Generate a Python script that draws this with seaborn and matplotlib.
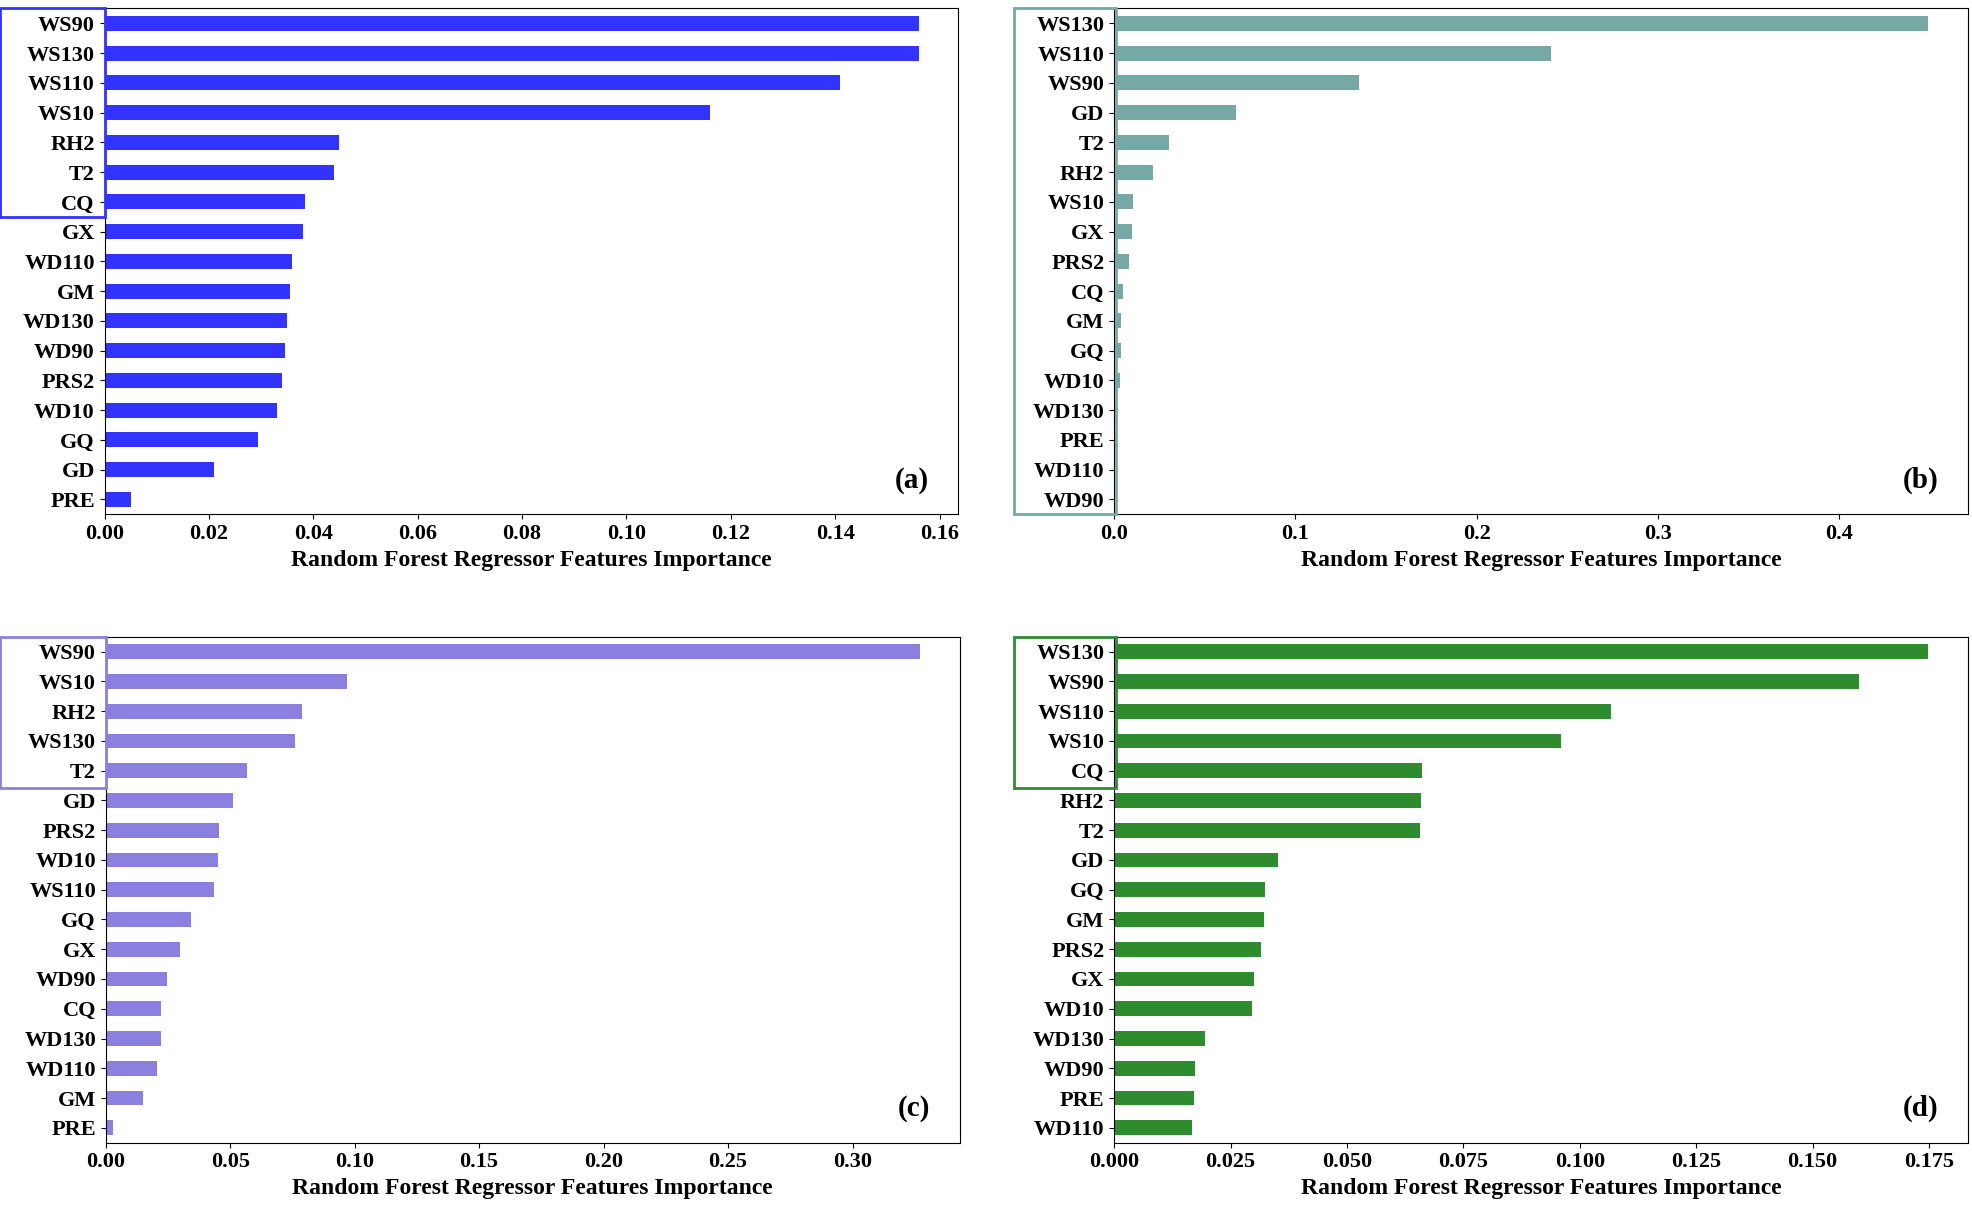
import matplotlib.pyplot as plt
import seaborn as sns
import pandas as pd
from matplotlib.patches import Rectangle

# Importância das variáveis em cada painel
labels_a = ["WS90", "WS130", "WS110", "WS10", "RH2", "T2", "CQ", "GX", "WD110", "GM", "WD130", "WD90", "PRS2", "WD10", "GQ", "GD", "PRE"]
values_a = [0.156, 0.156, 0.141, 0.116, 0.045, 0.044, 0.0385, 0.038, 0.036, 0.0355, 0.035, 0.0345, 0.034, 0.033, 0.0295, 0.021, 0.005]

labels_b = ["WS130", "WS110", "WS90", "GD", "T2", "RH2", "WS10", "GX", "PRS2", "CQ", "GM", "GQ", "WD10", "WD130", "PRE", "WD110", "WD90"]
values_b = [0.449, 0.241, 0.135, 0.067, 0.030, 0.0215, 0.0105, 0.0097, 0.0083, 0.005, 0.004, 0.0035, 0.003, 0.001, 0.0008, 0.0006, 0.0005]

labels_c = ["WS90", "WS10", "RH2", "WS130", "T2", "GD", "PRS2", "WD10", "WS110", "GQ", "GX", "WD90", "CQ", "WD130", "WD110", "GM", "PRE"]
values_c = [0.327, 0.097, 0.079, 0.076, 0.0566, 0.051, 0.0455, 0.045, 0.0434, 0.0343, 0.030, 0.0247, 0.0222, 0.0222, 0.0207, 0.015, 0.003]

labels_d = ["WS130", "WS90", "WS110", "WS10", "CQ", "RH2", "T2", "GD", "GQ", "GM", "PRS2", "GX", "WD10", "WD130", "WD90", "PRE", "WD110"]
values_d = [0.1747, 0.160, 0.1067, 0.0959, 0.0662, 0.0659, 0.0656, 0.0351, 0.0324, 0.0321, 0.0316, 0.030, 0.0297, 0.0194, 0.0173, 0.0172, 0.0167]

paineis = [
    (labels_a, values_a, "#3333ff", "(a)", [0.053, 0.576, 0.433, 0.417], 0.1636, [0, 0.02, 0.04, 0.06, 0.08, 0.10, 0.12, 0.14, 0.16], "{:.2f}", (0.0, 0.821, 0.053, 0.172)),
    (labels_b, values_b, "#76a8a5", "(b)", [0.565, 0.576, 0.433, 0.417], 0.471, [0, 0.1, 0.2, 0.3, 0.4], "{:.1f}", (0.514, 0.576, 0.052, 0.417)),
    (labels_c, values_c, "#8b7fe0", "(c)", [0.0536, 0.058, 0.433, 0.417], 0.343, [0, 0.05, 0.10, 0.15, 0.20, 0.25, 0.30], "{:.2f}", (0.0, 0.350, 0.0536, 0.125)),
    (labels_d, values_d, "#2e8b2e", "(d)", [0.565, 0.058, 0.433, 0.417], 0.1834, [0, 0.025, 0.05, 0.075, 0.10, 0.125, 0.15, 0.175], "{:.3f}", (0.514, 0.350, 0.052, 0.125)),
]

plt.rcParams["font.family"] = "Liberation Serif"
plt.rcParams["font.weight"] = "bold"

fig = plt.figure(figsize=(19.72, 12.13), dpi=100)
for labels, values, cor, letra, pos, xmax, ticks, fmt, caixa in paineis:
    ax = fig.add_axes(pos)
    df = pd.DataFrame({"feature": labels, "importance": values})
    sns.barplot(data=df, x="importance", y="feature", orient="h", color=cor, saturation=1, width=0.5, ax=ax)
    ax.set_xlim(0, xmax)
    ax.set_xticks(ticks)
    ax.set_xticklabels([fmt.format(t) for t in ticks])
    ax.set_ylabel("")
    ax.set_xlabel("Random Forest Regressor Features Importance", fontsize=17, fontweight="bold")
    ax.tick_params(labelsize=16)
    for t in ax.get_xticklabels() + ax.get_yticklabels():
        t.set_fontweight("bold")
    ax.text(0.965, 0.04, letra, transform=ax.transAxes, ha="right", va="bottom", fontsize=21, fontweight="bold")
    fig.patches.append(Rectangle(caixa[:2], caixa[2], caixa[3], transform=fig.transFigure, fill=False, edgecolor=cor, linewidth=2))

fig.savefig("out.png")
